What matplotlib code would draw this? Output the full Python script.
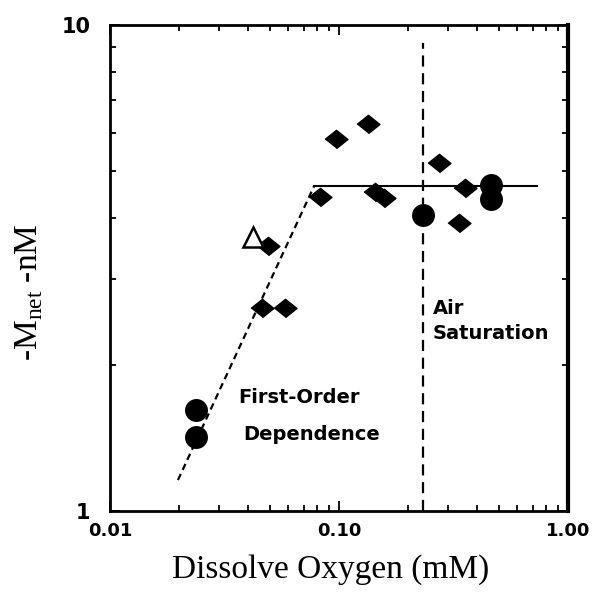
import matplotlib
matplotlib.use("Agg")
import matplotlib.pyplot as plt
from matplotlib.ticker import FixedLocator, FixedFormatter, LogLocator, NullFormatter

# Data
diamond_x = [0.049, 0.0462, 0.058, 0.0827, 0.097, 0.134, 0.1437, 0.158, 0.273, 0.355, 0.334]
diamond_y = [3.51, 2.62, 2.62, 4.43, 5.83, 6.26, 4.53, 4.41, 5.2, 4.62, 3.91]
circle_x = [0.0237, 0.0237, 0.233, 0.461, 0.461]
circle_y = [1.61, 1.42, 4.06, 4.69, 4.38]
triangle_x = [0.0421]
triangle_y = [3.66]
first_order_x = [0.0198, 0.0778]
first_order_y = [1.158, 4.66]
plateau_x = [0.0778, 0.73]
plateau_y = [4.66, 4.66]
air_sat_x = 0.233
air_sat_y = [1.0, 9.18]

x_ticks = [0.01, 0.1, 1.0]
x_tick_labels = ["0.01", "0.10", "1.00"]
y_ticks = [1, 10]
y_tick_labels = ["1", "10"]

fig = plt.figure(figsize=(5.97, 5.93), dpi=100)
ax = fig.add_axes([0.1843, 0.1383, 0.7671, 0.8195])
ax.set_xscale("log")
ax.set_yscale("log")
ax.set_xlim(0.01, 1.0)
ax.set_ylim(1, 10)

ax.plot(first_order_x, first_order_y, color="black", lw=1.6, ls=(0, (3, 2)))
ax.plot(plateau_x, plateau_y, color="black", lw=1.5)
ax.plot([air_sat_x, air_sat_x], air_sat_y, color="black", lw=1.6, ls=(0, (5, 3)))

diamond = [(-1, 0), (0, 0.8), (1, 0), (0, -0.8)]
ax.plot(diamond_x, diamond_y, ls="none", marker=diamond, ms=16.5, color="black")
ax.plot(circle_x, circle_y, ls="none", marker="o", ms=15.5, color="black")
ax.plot(triangle_x, triangle_y, ls="none", marker="^", ms=14, mfc="white", mec="black", mew=1.8)

ann = dict(fontsize=14, fontweight="bold", family="DejaVu Sans", va="center", ha="left")
ax.text(0.0362, 1.716, "First-Order", **ann)
ax.text(0.0381, 1.437, "Dependence", **ann)
ax.text(0.2573, 2.61, "Air", **ann)
ax.text(0.2573, 2.318, "Saturation", **ann)

ax.xaxis.set_major_locator(FixedLocator(x_ticks))
ax.xaxis.set_major_formatter(FixedFormatter(x_tick_labels))
ax.yaxis.set_major_locator(FixedLocator(y_ticks))
ax.yaxis.set_major_formatter(FixedFormatter(y_tick_labels))
ax.xaxis.set_minor_locator(LogLocator(base=10, subs=range(2, 10)))
ax.yaxis.set_minor_locator(LogLocator(base=10, subs=range(2, 10)))
ax.xaxis.set_minor_formatter(NullFormatter())
ax.yaxis.set_minor_formatter(NullFormatter())

ax.tick_params(which="both", direction="in", top=True, right=True, width=1.3, color="black")
ax.tick_params(which="major", length=7)
ax.tick_params(which="minor", length=4)
ax.tick_params(axis="x", labelsize=13, pad=8)
ax.tick_params(axis="y", labelsize=15, pad=14)
for lab in ax.get_xticklabels() + ax.get_yticklabels():
    lab.set_fontweight("bold")
    lab.set_family("DejaVu Sans")

for side in ["left", "bottom", "top"]:
    ax.spines[side].set_linewidth(2)
ax.spines["right"].set_linewidth(3)

ax.set_xlabel("Dissolve Oxygen (mM)", family="Liberation Serif", fontsize=24, labelpad=10)
ax.set_ylabel(r"-M$_{\mathregular{net}}$ -nM", family="Liberation Serif", fontsize=24, labelpad=12)
ax.xaxis.label.set_x(0.4825)
ax.yaxis.label.set_y(0.45)

fig.savefig("out.png", dpi=100)
